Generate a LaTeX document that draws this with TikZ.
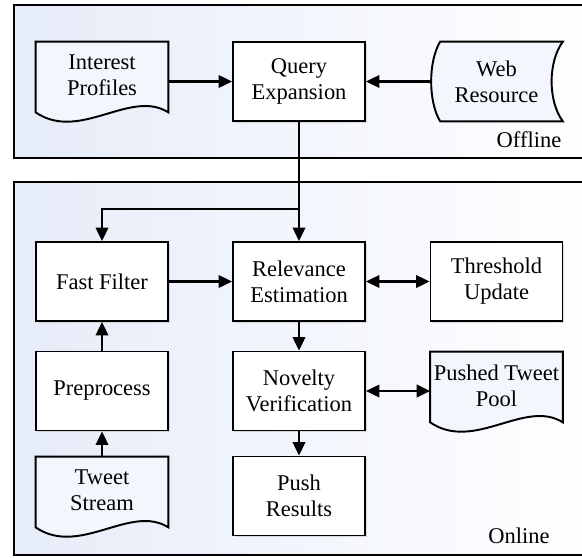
\documentclass[tikz,border=0pt]{standalone}
\usepackage{fontspec}
\setmainfont{Liberation Serif}
\usetikzlibrary{arrows.meta,positioning,shadows,backgrounds}
\definecolor{pane1}{HTML}{E6ECF8}
\definecolor{doc1}{HTML}{F3F6FC}
\tikzset{box/.style={draw,fill=white,line width=1.1pt,minimum width=2.64cm,minimum height=1.58cm,align=center,
    drop shadow={shadow xshift=0.9pt,shadow yshift=-0.9pt,opacity=0.25}}}
\tikzset{doc/.style={minimum width=2.64cm,minimum height=1.34cm,align=center,inner sep=0pt}}
\tikzset{store/.style={minimum width=2.64cm,minimum height=1.58cm,align=center,inner sep=0pt}}
\tikzset{pane/.style={draw,line width=1.3pt,left color=pane1,right color=white}}
\tikzset{outline/.style={draw,line width=1.1pt,fill=doc1}}
\tikzset{arr/.style={-{Triangle[length=0.27cm,width=0.25cm]},line width=1.3pt}}
\tikzset{darr/.style={{Triangle[length=0.27cm,width=0.25cm]}-{Triangle[length=0.27cm,width=0.25cm]},line width=1.3pt}}
\newcommand{\docpath}[1]{(#1.north west) -- (#1.north east) -- ([yshift=-0.06cm]#1.south east)
    .. controls +(-0.76,0.48) and +(0.88,-0.6) .. ([yshift=-0.06cm]#1.south west) -- cycle}

\begin{document}
\begin{tikzpicture}[every node/.style={font=\fontsize{12.8pt}{14.8pt}\selectfont}]
    \useasboundingbox (0,0) rectangle (11.64,-11.14);

    % offline part
    \node[doc] (ip) at (2.04,-1.51) {Interest\\Profiles};
    \node[box] (qe) at (5.98,-1.63) {Query\\Expansion};
    \node[store] (wr) at (9.93,-1.63) {Web\\Resource};
    \node (off) at (10.58,-2.8) {Offline};

    % online part
    \node[box] (ff) at (2.04,-5.63) {Fast Filter};
    \node[box] (re) at (5.98,-5.63) {Relevance\\Estimation};
    \node[box] (tu) at (9.93,-5.63) {Threshold\\Update};
    \node[box] (pp) at (2.04,-7.82) {Preprocess};
    \node[box] (nv) at (5.98,-7.82) {Novelty\\Verification};
    \node[doc] (ptp) at (9.93,-7.71) {Pushed Tweet\\Pool};
    \node[doc] (ts) at (2.04,-9.81) {Tweet\\Stream};
    \node[box] (pr) at (5.98,-9.92) {Push\\Results};
    \node (on) at (10.38,-10.72) {Online};

    \begin{scope}[on background layer]
        \path[pane] (0.28,-0.1) rectangle (12,-3.16);
        \path[pane] (0.28,-3.64) rectangle (12,-11.1);
        \path[outline] \docpath{ip};
        \path[outline] \docpath{ptp};
        \path[outline] \docpath{ts};
        \path[outline] (wr.north east) .. controls +(-0.3,-0.4) and +(-0.3,0.4) .. (wr.south east)
            -- ([xshift=0.2cm]wr.south west) .. controls +(-0.24,0.4) and +(-0.24,-0.4) .. ([xshift=0.2cm]wr.north west) -- cycle;
    \end{scope}

    \coordinate (br) at (5.98,-4.18);
    \draw[arr] (ip.east |- qe.west) -- (qe.west);
    \draw[arr] (wr.west) -- (qe.east);
    \draw[arr] (qe.south) -- (re.north);
    \draw[arr] (br) -| (ff.north);
    \draw[arr] (ff.east) -- (re.west);
    \draw[darr] (re.east) -- (tu.west);
    \draw[arr] (re.south) -- (nv.north);
    \draw[darr] (nv.east) -- (ptp.west |- nv.east);
    \draw[arr] (nv.south) -- (pr.north);
    \draw[arr] (pp.north) -- (ff.south);
    \draw[arr] (ts.north) -- (pp.south);
\end{tikzpicture}
\end{document}
